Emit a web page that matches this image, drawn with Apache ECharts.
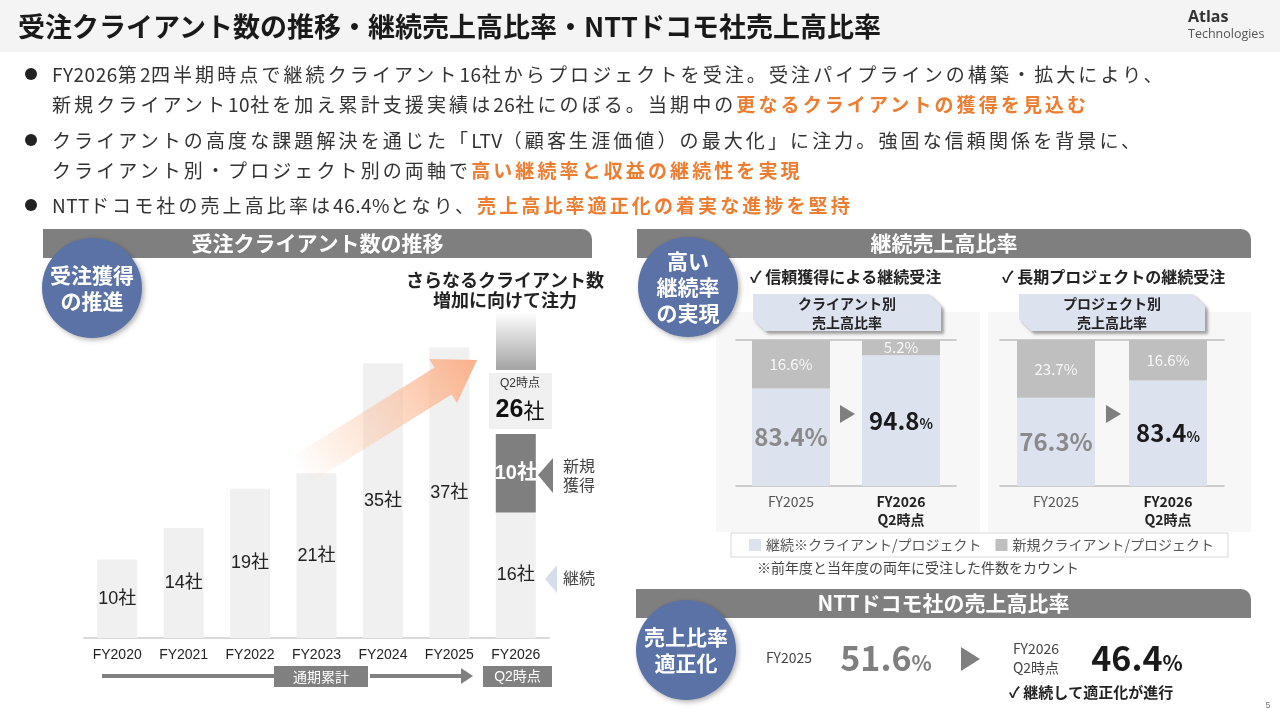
<!DOCTYPE html>
<html>
<head>
<meta charset="utf-8">
<script src="https://cdn.jsdelivr.net/npm/echarts@6/dist/echarts.min.js"></script>
<style>
body{margin:0;width:1280px;height:720px;overflow:hidden;background:#fff;font-family:'Noto Sans CJK JP',sans-serif;}
#hdr{position:absolute;left:0;top:0;width:1280px;height:52px;background:#f4f4f4;}
#main{position:absolute;left:0;top:0;width:1280px;height:720px;}
.title{position:absolute;left:18px;top:7px;font-size:27px;font-weight:bold;color:#1a1a1a;line-height:38px;white-space:nowrap;}
.logo1{position:absolute;left:1188px;top:7px;font-family:'Open Sans','Noto Sans',sans-serif;font-size:16px;font-weight:bold;color:#333;line-height:19px;}
.logo2{position:absolute;left:1188px;top:26px;font-family:'Open Sans','Noto Sans',sans-serif;font-size:12.5px;color:#555;line-height:16px;}
.bl{position:absolute;left:52px;font-size:19px;letter-spacing:3.1px;color:#333;line-height:26px;white-space:nowrap;}
.h{letter-spacing:0.5px;}
.dot{position:absolute;left:25px;width:12px;height:12px;border-radius:6px;background:#222;}
.or{color:#ed7d31;font-weight:bold;}
</style>
</head>
<body>
<div id="hdr"></div>
<div id="main"></div>
<div class="title">受注クライアント数の推移・継続売上高比率・NTTドコモ社売上高比率</div>
<div class="logo1">Atlas</div>
<div class="logo2">Technologies</div>
<div class="dot" style="top:68px"></div>
<div class="dot" style="top:134px"></div>
<div class="dot" style="top:199px"></div>
<div class="bl" style="top:61px"><span class="h">FY2026</span>第<span class="h">2</span>四半期時点で継続クライアント<span class="h">16</span>社からプロジェクトを受注。受注パイプラインの構築・拡大により、</div>
<div class="bl" style="top:91px">新規クライアント<span class="h">10</span>社を加え累計支援実績は<span class="h">26</span>社にのぼる。当期中の<span class="or">更なるクライアントの獲得を見込む</span></div>
<div class="bl" style="top:127px">クライアントの高度な課題解決を通じた「<span class="h">LTV</span>（顧客生涯価値）の最大化」に注力。強固な信頼関係を背景に、</div>
<div class="bl" style="top:157px">クライアント別・プロジェクト別の両軸で<span class="or">高い継続率と収益の継続性を実現</span></div>
<div class="bl" style="top:192px"><span class="h">NTT</span>ドコモ社の売上高比率は<span class="h">46.4%</span>となり、<span class="or">売上高比率適正化の着実な進捗を堅持</span></div>
<script>
// ---- data ----
var years = ['FY2020', 'FY2021', 'FY2022', 'FY2023', 'FY2024', 'FY2025', 'FY2026'];
var clientBase = [10, 14, 19, 21, 35, 37, 16];   // FY2026 は継続クライアント
var clientNew = ['-', '-', '-', '-', '-', '-', 10];
var q2Total = 26;

var ratioCats = ['FY2025', 'FY2026\nQ2時点'];
var clientCont = [83.4, 94.8];
var clientNewRatio = [16.6, 5.2];
var projCont = [76.3, 83.4];
var projNewRatio = [23.7, 16.6];

var docomoCats = ['FY2025', 'FY2026\nQ2時点'];
var docomoRatio = [51.6, 46.4];

var contName = '継続※クライアント/プロジェクト';
var newName = '新規クライアント/プロジェクト';

var chart = echarts.init(document.getElementById('main'));
var CJK = "'Noto Sans CJK JP'";
var NUM = "'Liberation Sans','Noto Sans CJK JP'";
var GRAY = '#7f7f7f';
var CIRCLE = '#5b72a6';

function catLabel(v, i) {
    var st = i === 1 ? 'b' : 'n';
    return v.split('\n').map(function (s) { return '{' + st + '|' + s + '}'; }).join('\n');
}

function contLabel(p) {
    if (p.dataIndex === 0) return '{g|' + p.value + '%}';
    return '{b|' + p.value + '}{bp|%}';
}

var ratioAxisLabel = {
    formatter: catLabel, margin: 7,
    rich: {
        n: {fontSize: 14, color: '#555', lineHeight: 18, fontFamily: CJK},
        b: {fontSize: 14, fontWeight: 'bold', color: '#222', lineHeight: 18, fontFamily: CJK}
    }
};
var contRich = {
    g: {fontSize: 24, fontWeight: 'bold', color: '#8a8a8a', fontFamily: CJK},
    b: {fontSize: 24, fontWeight: 'bold', color: '#1a1a1a', fontFamily: CJK},
    bp: {fontSize: 14, fontWeight: 'bold', color: '#1a1a1a', fontFamily: CJK, padding: [7, 0, 0, 0]}
};

// ---- decoration helpers ----
function band(x, y, w, h, text) {
    return [
        {type: 'rect', z: 5, shape: {x: x, y: y, width: w, height: h, r: [0, 10, 0, 0]}, style: {fill: GRAY}},
        {type: 'text', z: 6, x: x + w / 2, y: y + h / 2, style: {text: text, fill: '#fff', font: 'bold 21px ' + CJK, align: 'center', verticalAlign: 'middle'}}
    ];
}
function circle(cx, cy, text) {
    return [
        {type: 'circle', z: 7, shape: {cx: cx, cy: cy, r: 50}, style: {fill: CIRCLE, shadowBlur: 5, shadowColor: 'rgba(0,0,0,0.3)', shadowOffsetX: 2, shadowOffsetY: 2}},
        {type: 'text', z: 8, x: cx, y: cy, style: {text: text, fill: '#fff', font: 'bold 21px ' + CJK, lineHeight: 26, align: 'center', verticalAlign: 'middle'}}
    ];
}
function txt(x, y, text, font, fill, align) {
    return {type: 'text', z: 8, x: x, y: y, style: {text: text, font: font, fill: fill || '#222', align: align || 'left', verticalAlign: 'middle'}};
}
function tri(x1, y1, x2, y2, x3, y3, fill) {
    return {type: 'polygon', z: 6, shape: {points: [[x1, y1], [x2, y2], [x3, y3]]}, style: {fill: fill}};
}
function pentagon(x0, y0, x1, y1, text) {
    var s = 12;
    return [
        {type: 'polygon', z: 4, shape: {points: [[x0, y0], [x1 - s, y0], [x1, y0 + s], [x1, y1], [x0 + s, y1], [x0, y1 - s]]},
            style: {fill: '#dce3ef', shadowBlur: 3, shadowColor: 'rgba(0,0,0,0.35)', shadowOffsetX: 3, shadowOffsetY: 3}},
        {type: 'text', z: 5, x: (x0 + x1) / 2, y: (y0 + y1) / 2 + 1, style: {text: text, font: 'bold 14px ' + CJK, fill: '#222', lineHeight: 19, align: 'center', verticalAlign: 'middle'}}
    ];
}

var arrowGrad = new echarts.graphic.LinearGradient(299, 471, 477, 360, [
    {offset: 0, color: 'rgba(252,190,150,0)'},
    {offset: 0.4, color: 'rgba(252,195,160,0.45)'},
    {offset: 1, color: '#fbb08a'}
], true);
var boxGrad = new echarts.graphic.LinearGradient(0, 0, 0, 1, [
    {offset: 0, color: '#ffffff'},
    {offset: 1, color: '#a3a3a3'}
]);

var graphics = [].concat(
    // 左：受注クライアント数の推移
    band(43, 229, 549, 29, '受注クライアント数の推移'),
    circle(92, 288, '受注獲得\nの推進'),
    [
        txt(505, 280, 'さらなるクライアント数', 'bold 18px ' + CJK, '#222', 'center'),
        txt(505, 300, '増加に向けて注力', 'bold 18px ' + CJK, '#222', 'center'),
        {type: 'rect', z: 3, shape: {x: 496, y: 312, width: 40, height: 58}, style: {fill: boxGrad}},
        {type: 'rect', z: 3, shape: {x: 489, y: 373, width: 63, height: 56}, style: {fill: '#f0f0f0'}},
        txt(520, 384, 'Q2時点', '12px ' + NUM, '#333', 'center'),
        {type: 'text', z: 8, x: 520, y: 410, style: {text: '{a|' + q2Total + '}{b|社}', align: 'center', verticalAlign: 'middle',
            rich: {a: {font: 'bold 25px ' + NUM, fill: '#111'}, b: {font: '21px ' + CJK, fill: '#111'}}}},
        tri(538, 475, 553, 458, 553, 493, GRAY),
        txt(563, 466, '新規', '16px ' + CJK, '#444'),
        txt(563, 485, '獲得', '16px ' + CJK, '#444'),
        tri(545, 579, 557, 565, 557, 593, '#d6deeb'),
        txt(563, 578, '継続', '16px ' + CJK, '#444'),
        {type: 'polygon', z: 10, shape: {points: [[290.5, 457.4], [434.5, 367.4], [429, 359], [477, 360], [457, 403], [451.5, 394.6], [307.5, 484.6]]}, style: {fill: arrowGrad}},
        {type: 'line', z: 5, shape: {x1: 102, y1: 676, x2: 274, y2: 676}, style: {stroke: '#808080', lineWidth: 4}},
        {type: 'rect', z: 5, shape: {x: 274, y: 666, width: 94, height: 21}, style: {fill: '#808080'}},
        txt(321, 677, '通期累計', '14px ' + CJK, '#fff', 'center'),
        {type: 'line', z: 5, shape: {x1: 370, y1: 676, x2: 462, y2: 676}, style: {stroke: '#808080', lineWidth: 4}},
        tri(461, 668, 473, 676, 461, 684, '#808080'),
        {type: 'rect', z: 5, shape: {x: 483, y: 666, width: 69, height: 21}, style: {fill: '#808080'}},
        txt(517.5, 677, 'Q2時点', '14px ' + NUM, '#fff', 'center')
    ],
    // 右上：継続売上高比率
    [
        {type: 'rect', z: 0, shape: {x: 716, y: 312, width: 264, height: 220}, style: {fill: '#f7f7f7'}},
        {type: 'rect', z: 0, shape: {x: 988, y: 312, width: 263, height: 220}, style: {fill: '#f7f7f7'}}
    ],
    band(637, 229, 614, 29, '継続売上高比率'),
    circle(688, 287, '高い\n継続率\nの実現'),
    pentagon(753, 294, 941, 331, 'クライアント別\n売上高比率'),
    pentagon(1019, 294, 1205, 331, 'プロジェクト別\n売上高比率'),
    [
        txt(750, 277, '✓ 信頼獲得による継続受注', 'bold 16px ' + CJK, '#222'),
        txt(1002, 277, '✓ 長期プロジェクトの継続受注', 'bold 16px ' + CJK, '#222'),
        tri(840, 405, 855, 414, 840, 423, GRAY),
        tri(1106, 405, 1121, 414, 1106, 423, GRAY),
        txt(757, 568, '※前年度と当年度の両年に受注した件数をカウント', '14px ' + CJK, '#444')
    ],
    // 右下：NTTドコモ社の売上高比率
    band(636, 589, 615, 29, 'NTTドコモ社の売上高比率'),
    circle(686, 650, '売上比率\n適正化'),
    [
        txt(789, 658, docomoCats[0], '14px ' + CJK, '#444', 'center'),
        {type: 'text', z: 8, x: 886, y: 658, style: {text: '{a|' + docomoRatio[0] + '}{b|%}', align: 'center', verticalAlign: 'middle',
            rich: {a: {font: 'bold 34px ' + CJK, fill: '#7f7f7f'}, b: {font: 'bold 21px ' + CJK, fill: '#7f7f7f', padding: [10, 0, 0, 0]}}}},
        tri(961, 647, 980, 659, 961, 671, GRAY),
        {type: 'text', z: 8, x: 1036, y: 658, style: {text: docomoCats[1], font: '14px ' + CJK, fill: '#444', lineHeight: 19, align: 'center', verticalAlign: 'middle'}},
        {type: 'text', z: 8, x: 1137, y: 658, style: {text: '{a|' + docomoRatio[1] + '}{b|%}', align: 'center', verticalAlign: 'middle',
            rich: {a: {font: 'bold 34px ' + CJK, fill: '#1a1a1a'}, b: {font: 'bold 21px ' + CJK, fill: '#1a1a1a', padding: [10, 0, 0, 0]}}}},
        txt(1009, 692, '✓ 継続して適正化が進行', 'bold 15px ' + CJK, '#222'),
        txt(1268, 706, '5', '9px ' + NUM, '#777', 'center')
    ]
);

var option = {
    animation: false,
    textStyle: {fontFamily: CJK},
    legend: {
        data: [contName, newName], left: 731, top: 533, icon: 'rect', itemWidth: 12, itemHeight: 12, itemGap: 14,
        borderColor: '#d9d9d9', borderWidth: 1, padding: [5, 14, 5, 18], selectedMode: false,
        textStyle: {fontSize: 14, color: '#555'}
    },
    grid: [
        {left: 84, top: 324, width: 465, height: 314},
        {left: 736, top: 340, width: 220, height: 146},
        {left: 1000, top: 340, width: 224, height: 146}
    ],
    xAxis: [
        {type: 'category', gridIndex: 0, data: years, axisTick: {show: false},
            axisLine: {lineStyle: {color: '#d9d9d9', width: 2}},
            axisLabel: {color: '#222', fontSize: 14, margin: 10, fontFamily: NUM}},
        {type: 'category', gridIndex: 1, data: ratioCats, axisTick: {show: false},
            axisLine: {lineStyle: {color: '#bfbfbf', width: 1.5}}, axisLabel: ratioAxisLabel},
        {type: 'category', gridIndex: 1, data: ratioCats, position: 'top', axisTick: {show: false},
            axisLine: {lineStyle: {color: '#bfbfbf', width: 1.5}}, axisLabel: {show: false}},
        {type: 'category', gridIndex: 2, data: ratioCats, axisTick: {show: false},
            axisLine: {lineStyle: {color: '#bfbfbf', width: 1.5}}, axisLabel: ratioAxisLabel},
        {type: 'category', gridIndex: 2, data: ratioCats, position: 'top', axisTick: {show: false},
            axisLine: {lineStyle: {color: '#bfbfbf', width: 1.5}}, axisLabel: {show: false}}
    ],
    yAxis: [
        {type: 'value', gridIndex: 0, min: 0, max: 40, show: false},
        {type: 'value', gridIndex: 1, min: 50, max: 100, show: false},
        {type: 'value', gridIndex: 2, min: 40, max: 100, show: false}
    ],
    series: [
        {name: '受注クライアント数', type: 'bar', xAxisIndex: 0, yAxisIndex: 0, stack: 'c', data: clientBase, barWidth: 40,
            itemStyle: {color: '#f0f0f0'},
            label: {show: true, position: 'inside', formatter: '{c}社', fontSize: 18, color: '#222', fontFamily: NUM}},
        {name: '新規獲得', type: 'bar', xAxisIndex: 0, yAxisIndex: 0, stack: 'c', data: clientNew, barWidth: 40,
            itemStyle: {color: GRAY},
            label: {show: true, position: 'inside', formatter: '{c}社', fontSize: 20, fontWeight: 'bold', color: '#fff', fontFamily: NUM}},
        {name: contName, type: 'bar', xAxisIndex: 1, yAxisIndex: 1, stack: 'r1', data: clientCont, barWidth: 78,
            itemStyle: {color: '#dce3ef'},
            label: {show: true, position: 'inside', formatter: contLabel, rich: contRich}},
        {name: newName, type: 'bar', xAxisIndex: 1, yAxisIndex: 1, stack: 'r1', data: clientNewRatio, barWidth: 78,
            itemStyle: {color: '#bfbfbf'},
            label: {show: true, position: 'inside', formatter: '{c}%', fontSize: 15, color: '#f7f7f7'}},
        {name: contName, type: 'bar', xAxisIndex: 3, yAxisIndex: 2, stack: 'r2', data: projCont, barWidth: 78,
            itemStyle: {color: '#dce3ef'},
            label: {show: true, position: 'inside', formatter: contLabel, rich: contRich}},
        {name: newName, type: 'bar', xAxisIndex: 3, yAxisIndex: 2, stack: 'r2', data: projNewRatio, barWidth: 78,
            itemStyle: {color: '#bfbfbf'},
            label: {show: true, position: 'inside', formatter: '{c}%', fontSize: 15, color: '#f7f7f7'}}
    ],
    graphic: graphics
};

chart.setOption(option);
</script>
</body>
</html>
